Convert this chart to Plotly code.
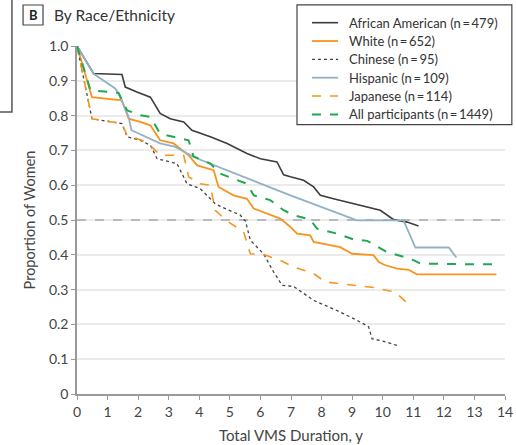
import plotly.graph_objects as go

# ---- data ----
aa_x = [0, 0.54, 1.47, 1.58, 1.96, 2.40, 2.72, 3.05, 3.49, 3.76, 4.36, 4.91, 5.56, 6.0, 6.54, 6.76, 6.98, 7.41, 7.74, 7.96, 8.39, 8.83, 9.27, 9.92, 10.36, 10.80, 11.17]
aa_y = [1.0, 0.921, 0.918, 0.882, 0.868, 0.853, 0.806, 0.791, 0.782, 0.758, 0.739, 0.720, 0.691, 0.676, 0.667, 0.630, 0.624, 0.614, 0.595, 0.571, 0.561, 0.552, 0.542, 0.528, 0.501, 0.494, 0.483]

wh_x = [0, 0.49, 1.47, 1.69, 2.07, 2.40, 2.72, 3.16, 3.65, 3.93, 4.47, 4.63, 5.12, 5.56, 5.78, 6.22, 6.65, 6.98, 7.20, 7.63, 7.74, 8.61, 9.0, 9.70, 9.87, 10.09, 10.47, 10.85, 11.12, 13.72]
wh_y = [1.0, 0.853, 0.844, 0.791, 0.782, 0.772, 0.729, 0.720, 0.686, 0.657, 0.643, 0.595, 0.571, 0.561, 0.533, 0.518, 0.504, 0.480, 0.461, 0.456, 0.437, 0.422, 0.403, 0.399, 0.379, 0.370, 0.360, 0.357, 0.344, 0.344]

ch_x = [0, 0.49, 1.47, 1.64, 2.07, 2.40, 2.62, 3.05, 3.27, 3.60, 4.03, 4.52, 4.69, 5.34, 5.51, 5.67, 6.10, 6.43, 6.71, 7.09, 7.74, 8.50, 9.16, 9.54, 9.65, 10.14, 10.55]
ch_y = [1.0, 0.791, 0.777, 0.739, 0.729, 0.715, 0.676, 0.667, 0.662, 0.604, 0.590, 0.547, 0.539, 0.514, 0.497, 0.442, 0.403, 0.351, 0.312, 0.309, 0.269, 0.240, 0.212, 0.193, 0.159, 0.149, 0.137]

hi_x = [0, 0.54, 1.25, 1.36, 1.69, 1.78, 2.72, 3.22, 3.81, 6.98, 9.16, 10.68, 11.07, 12.16, 12.41]
hi_y = [1.0, 0.920, 0.878, 0.863, 0.796, 0.758, 0.720, 0.710, 0.681, 0.571, 0.499, 0.499, 0.421, 0.421, 0.392]

jp_x = [0, 0.49, 1.47, 1.64, 2.29, 2.72, 3.49, 3.65, 4.03, 4.36, 4.52, 4.91, 5.45, 5.67, 6.10, 6.65, 7.09, 7.74, 8.12, 8.83, 9.70, 10.41, 10.88]
jp_y = [1.0, 0.791, 0.777, 0.743, 0.724, 0.686, 0.686, 0.624, 0.604, 0.600, 0.528, 0.497, 0.466, 0.403, 0.401, 0.384, 0.365, 0.346, 0.322, 0.315, 0.306, 0.293, 0.255]

all_x = [0, 0.44, 1.36, 1.64, 2.07, 2.40, 2.72, 3.16, 3.65, 3.81, 4.36, 4.69, 5.23, 5.56, 5.78, 6.32, 6.76, 7.09, 7.63, 7.85, 8.50, 9.05, 9.49, 10.14, 10.90, 11.23, 12.54, 13.19, 13.68]
all_y = [1.0, 0.873, 0.865, 0.815, 0.801, 0.796, 0.748, 0.739, 0.729, 0.683, 0.662, 0.633, 0.614, 0.604, 0.571, 0.557, 0.528, 0.514, 0.501, 0.475, 0.461, 0.444, 0.440, 0.408, 0.389, 0.375, 0.373, 0.372, 0.373]

median_level = 0.5
x_range = [0, 14]
x_ticks = list(range(0, 15))
y_ticks = [0, 0.1, 0.2, 0.3, 0.4, 0.5, 0.6, 0.7, 0.8, 0.9, 1.0]
y_tick_labels = ["0", "0.1", "0.2", "0.3", "0.4", "0.5", "0.6", "0.7", "0.8", "0.9", "1.0"]

ORANGE = "#f7941d"
FONT = "Lato"

series = [
    ("African American (n\u2009=\u2009479)", aa_x, aa_y, "#3d3d3d", "solid", 1.6),
    ("White (n\u2009=\u2009652)", wh_x, wh_y, ORANGE, "solid", 1.8),
    ("Chinese (n\u2009=\u200995)", ch_x, ch_y, "#444444", "dot", 1.3),
    ("Hispanic (n\u2009=\u2009109)", hi_x, hi_y, "#92b1c6", "solid", 1.8),
    ("Japanese (n\u2009=\u2009114)", jp_x, jp_y, ORANGE, "dash", 1.6),
    ("All participants (n\u2009=\u20091449)", all_x, all_y, "#1fa84f", "dash", 2.0),
]

fig = go.Figure()
# reference line at median level
fig.add_trace(go.Scatter(x=x_range, y=[median_level, median_level], mode="lines",
                         showlegend=False, hoverinfo="skip",
                         line=dict(color="#aaaaaa", width=1.5, dash="dash")))
for name, xs, ys, col, dash, w in series:
    fig.add_trace(go.Scatter(x=xs, y=ys, mode="lines", name=name, showlegend=False,
                             line=dict(color=col, dash=dash, width=w)))

# ---- hand-placed legend box (paper coordinates) ----
fig.add_shape(type="rect", xref="paper", yref="paper", x0=0.514, x1=1.016, y0=0.774, y1=1.118,
              line=dict(color="#444", width=1.2), fillcolor="white", layer="above")
row_y0 = 1.067
row_step = 0.0527
for i, (name, xs, ys, col, dash, w) in enumerate(series):
    yy = row_y0 - i * row_step
    fig.add_shape(type="line", xref="paper", yref="paper", x0=0.549, x1=0.610, y0=yy, y1=yy,
                  line=dict(color=col, dash=dash, width=w), layer="above")
    fig.add_annotation(xref="paper", yref="paper", x=0.631, y=yy, text=name, showarrow=False,
                       xanchor="left", yanchor="middle",
                       font=dict(family=FONT, size=13, color="#333"))

# remnant border of neighbouring panel
fig.add_shape(type="rect", xref="paper", yref="paper", x0=-0.25, x1=-0.152, y0=0.81, y1=1.25,
              line=dict(color="#555555", width=1.5))

# panel label "B" in a box
fig.add_shape(type="rect", xref="paper", yref="paper", x0=-0.126, x1=-0.0794, y0=1.0603, y1=1.1178,
              line=dict(color="#444", width=1.2))
fig.add_annotation(xref="paper", yref="paper", x=-0.1027, y=1.089, text="<b>B</b>",
                   showarrow=False, font=dict(family=FONT, size=13, color="#222"),
                   xanchor="center", yanchor="middle")
fig.add_annotation(xref="paper", yref="paper", x=-0.058, y=1.089, text="By Race/Ethnicity",
                   showarrow=False, font=dict(family=FONT, size=15.5, color="#333"),
                   xanchor="left", yanchor="middle")

fig.update_layout(
    width=516, height=445,
    margin=dict(l=77, r=11, t=46, b=51, autoexpand=False),
    paper_bgcolor="white", plot_bgcolor="white",
    showlegend=False,
    font=dict(family=FONT, size=14, color="#444"),
    xaxis=dict(range=x_range, tickvals=x_ticks, showgrid=False, zeroline=False,
               automargin=False,
               showline=True, linecolor="#999", linewidth=1.5,
               ticks="outside", ticklen=4, tickcolor="#999",
               title=dict(text="Total VMS Duration, y", font=dict(size=15, color="#444"), standoff=12),
               tickfont=dict(size=14, color="#444")),
    yaxis=dict(range=[0, 1.0], tickvals=y_ticks, ticktext=y_tick_labels,
               automargin=False,
               showgrid=True, gridcolor="#ebebeb", gridwidth=2, zeroline=False,
               showline=True, linecolor="#999", linewidth=1.5,
               ticks="outside", ticklen=4, tickcolor="#999",
               title=dict(text="Proportion of Women", font=dict(size=14.5, color="#444"), standoff=10),
               tickfont=dict(size=14, color="#444")),
)

# remove the default page margin so the figure fills the window exactly
fig.write_html("out.html",
               config={"displayModeBar": False},
               post_script="document.body.style.margin='0';document.body.style.overflow='hidden';")
